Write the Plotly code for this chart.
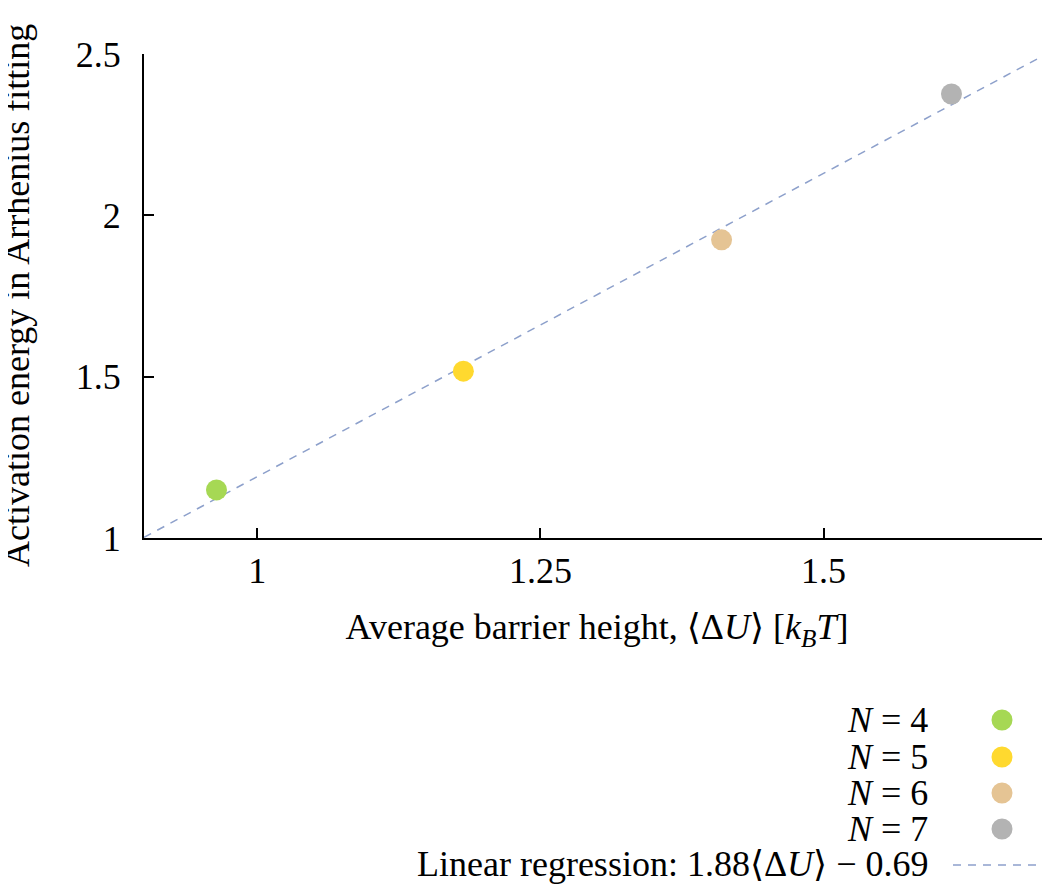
import plotly.graph_objects as go

# Data
labels = ["N = 4", "N = 5", "N = 6", "N = 7"]
barrier = [0.964, 1.182, 1.410, 1.613]
activation = [1.149, 1.517, 1.924, 2.376]
colors = ["#a6d854", "#ffd92f", "#e5c494", "#b3b3b3"]
slope = 1.88
intercept = -0.69
x_range = [0.9, 1.7]
y_range = [1.0, 2.5]
x_ticks = [1, 1.25, 1.5]
y_ticks = [1, 1.5, 2, 2.5]
line_color = "#8da0cb"

FONT = "Liberation Serif, DejaVu Serif, serif"
FS = 36

fig = go.Figure()

# regression line
fig.add_trace(go.Scatter(
    x=x_range, y=[slope * v + intercept for v in x_range],
    mode="lines", line=dict(color=line_color, width=1.5, dash="8px,7px"),
    showlegend=False, hoverinfo="skip", cliponaxis=True))

for lab, xv, yv, c in zip(labels, barrier, activation, colors):
    fig.add_trace(go.Scatter(
        x=[xv], y=[yv], mode="markers", name=lab,
        marker=dict(size=21, color=c, line=dict(width=0)),
        showlegend=False, cliponaxis=False))

axis_common = dict(
    showline=True, linecolor="black", linewidth=2,
    ticks="inside", ticklen=10, tickwidth=1.5, tickcolor="black",
    showgrid=False, zeroline=False, mirror=False,
    tickfont=dict(family=FONT, size=FS, color="black"),
)

fig.update_xaxes(
    range=x_range, tickvals=x_ticks, ticktext=["1", "1.25", "1.5"],
    ticklabelstandoff=0,
    title=dict(text="Average barrier height, ⟨Δ<i>U</i>⟩ [<i>k</i><sub><i>B</i></sub><i>T</i>]",
               font=dict(family=FONT, size=FS, color="black"), standoff=24),
    **axis_common)
fig.update_yaxes(
    range=y_range, tickvals=y_ticks, ticktext=["1", "1.5", "2", "2.5"],
    ticklabelstandoff=14,
    **axis_common)

# page-pixel -> paper helpers (plot area spans x 144..1050, y 54..538 on the page)
W_PLOT = 906.0
H_PLOT = 484.0
def px_x(p):
    return (p - 144) / W_PLOT
def px_y(p):
    return (538 - p) / H_PLOT

annotations = []
shapes = []

# y-axis title
annotations.append(dict(
    text="Activation energy in Arrhenius fitting", textangle=-90,
    x=px_x(17), y=0.5, xref="paper", yref="paper",
    xanchor="center", yanchor="middle", showarrow=False,
    font=dict(family=FONT, size=FS, color="black")))

# Manual legend (text on the left, symbol on the right)
row_y = [720, 757, 793, 829]
text_right = 930
marker_x = 1002
for lab, c, ry in zip(labels, colors, row_y):
    n = lab.split("=")[1].strip()
    annotations.append(dict(
        text=f"<i>N</i> = {n}", x=px_x(text_right), y=px_y(ry),
        xref="paper", yref="paper", xanchor="right", yanchor="middle",
        showarrow=False, font=dict(family=FONT, size=FS, color="black")))
    shapes.append(dict(
        type="circle", xref="paper", yref="paper",
        xsizemode="pixel", ysizemode="pixel",
        xanchor=px_x(marker_x), yanchor=px_y(ry),
        x0=-10.5, x1=10.5, y0=-10.5, y1=10.5,
        fillcolor=c, line=dict(width=0)))

reg_y = 865
annotations.append(dict(
    text=f"Linear regression: {slope:.2f}⟨Δ<i>U</i>⟩ − {abs(intercept):.2f}",
    x=px_x(text_right), y=px_y(reg_y - 1),
    xref="paper", yref="paper", xanchor="right", yanchor="middle",
    showarrow=False, font=dict(family=FONT, size=FS, color="black")))
shapes.append(dict(
    type="line", xref="paper", yref="paper",
    x0=px_x(953), x1=px_x(1045), y0=px_y(reg_y), y1=px_y(reg_y),
    line=dict(color=line_color, width=1.5, dash="8px,7px")))

fig.update_layout(
    width=1042, height=876,
    margin=dict(l=136, r=0, t=46, b=346),
    plot_bgcolor="white", paper_bgcolor="white",
    font=dict(family=FONT, size=FS, color="black"),
    shapes=shapes, annotations=annotations,
)

fig.write_html("out.html")
